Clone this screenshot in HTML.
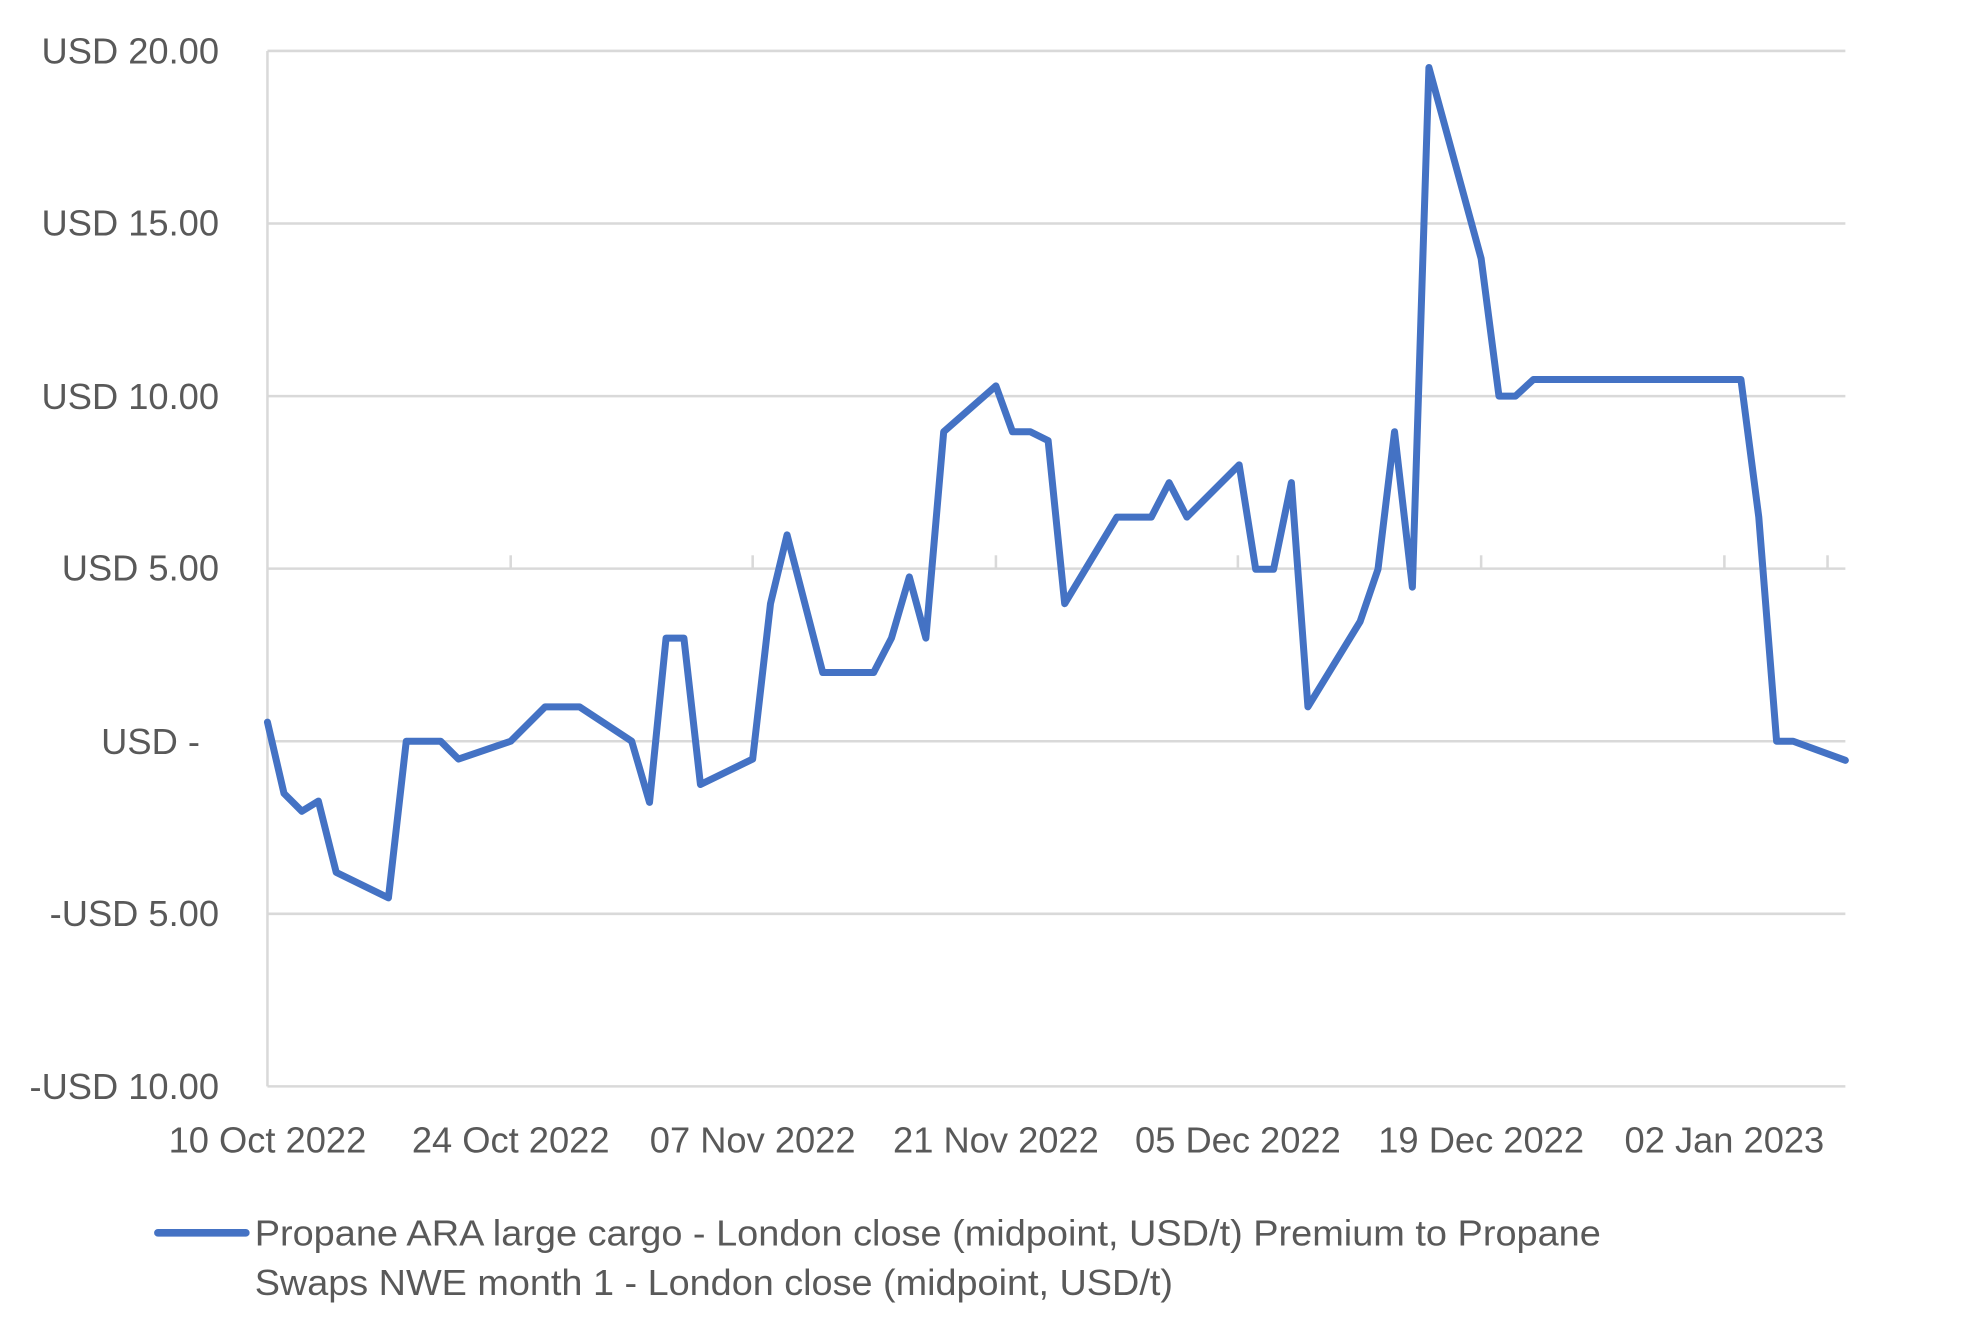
<!DOCTYPE html>
<html><head><meta charset="utf-8"><style>
html,body{margin:0;padding:0;background:#fff;}
svg{display:block;}
text{font-family:"Liberation Sans",sans-serif;fill:#595959;font-size:28.5px;}
</style></head><body>
<svg width="1974" height="1336" viewBox="0 0 1550 1049" preserveAspectRatio="none">
<g stroke="#d9d9d9" stroke-width="2">
<line x1="210" y1="40" x2="1449" y2="40"/>
<line x1="210" y1="175.5" x2="1449" y2="175.5"/>
<line x1="210" y1="311" x2="1449" y2="311"/>
<line x1="210" y1="446.5" x2="1449" y2="446.5"/>
<line x1="210" y1="582" x2="1449" y2="582"/>
<line x1="210" y1="717.5" x2="1449" y2="717.5"/>
<line x1="210" y1="853" x2="1449" y2="853"/>
<line x1="210" y1="40" x2="210" y2="853"/>
<line x1="401" y1="436" x2="401" y2="446"/>
<line x1="591" y1="436" x2="591" y2="446"/>
<line x1="782" y1="436" x2="782" y2="446"/>
<line x1="972" y1="436" x2="972" y2="446"/>
<line x1="1163" y1="436" x2="1163" y2="446"/>
<line x1="1354" y1="436" x2="1354" y2="446"/>
<line x1="1435" y1="436" x2="1435" y2="446"/>
</g>
<g text-anchor="end">
<text x="172" y="50">USD 20.00</text>
<text x="172" y="185">USD 15.00</text>
<text x="172" y="321">USD 10.00</text>
<text x="172" y="456">USD 5.00</text>
<text x="157" y="592">USD -</text>
<text x="172" y="727">-USD 5.00</text>
<text x="172" y="863">-USD 10.00</text>
</g>
<g text-anchor="middle">
<text x="210" y="905">10 Oct 2022</text>
<text x="401" y="905">24 Oct 2022</text>
<text x="591" y="905">07 Nov 2022</text>
<text x="782" y="905">21 Nov 2022</text>
<text x="972" y="905">05 Dec 2022</text>
<text x="1163" y="905">19 Dec 2022</text>
<text x="1354" y="905">02 Jan 2023</text>
</g>
<polyline fill="none" stroke="#4472C4" stroke-width="5.5" stroke-linejoin="round" stroke-linecap="round" points="210,567 223,623 237,637 250,629 264,685 305,705 319,582 346,582 360,596 401,582 428,555 455,555 496,582 510,630 523,501 537,501 550,616 591,596 605,474 618,420 646,528 686,528 700,501 714,453 727,501 741,339 782,303 795,339 809,339 823,346 836,474 877,406 904,406 918,379 932,406 973,365 986,447 1000,447 1014,379 1027,555 1068,488 1082,447 1095,339 1109,461 1122,53 1163,203 1177,311 1190,311 1204,298 1367,298 1381,406 1395,582 1408,582 1449,597"/>
<line x1="124" y1="968" x2="193" y2="968" stroke="#4472C4" stroke-width="6" stroke-linecap="round"/>
<text x="200" y="978" textLength="1057" lengthAdjust="spacingAndGlyphs">Propane ARA large cargo - London close (midpoint, USD/t) Premium to Propane</text>
<text x="200" y="1017" textLength="721" lengthAdjust="spacingAndGlyphs">Swaps NWE month 1 - London close (midpoint, USD/t)</text>
</svg>
</body></html>
